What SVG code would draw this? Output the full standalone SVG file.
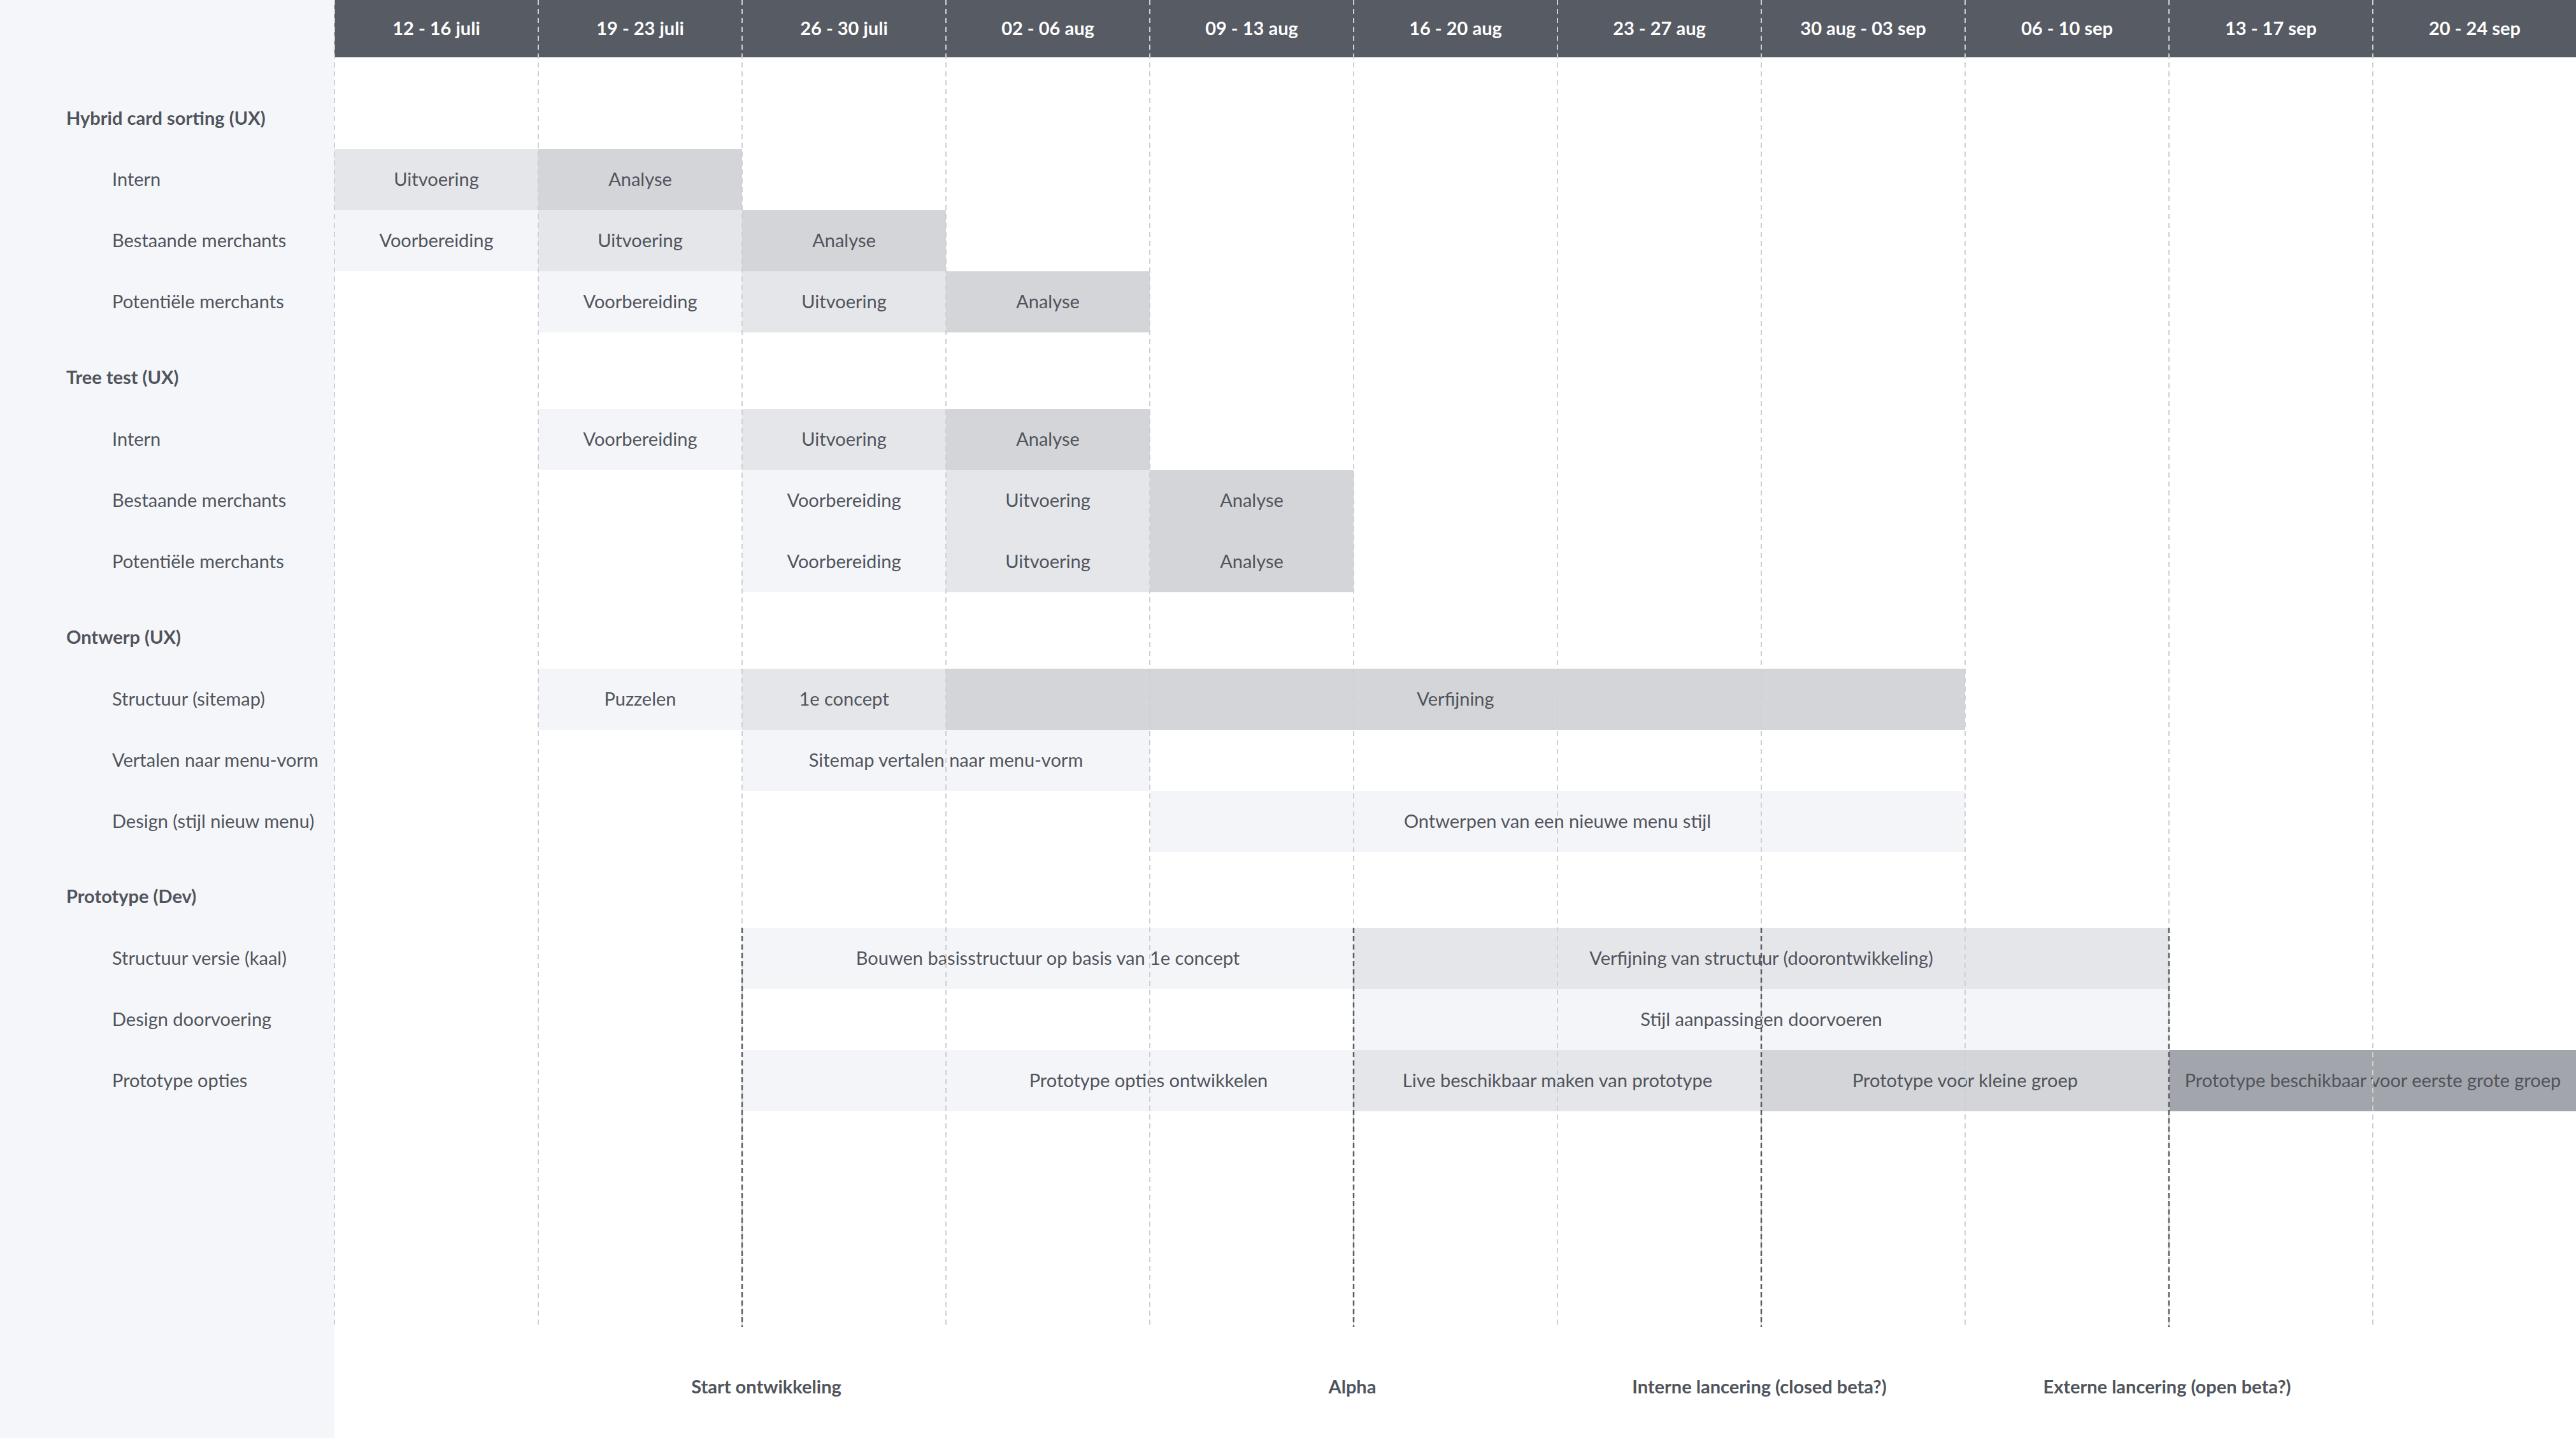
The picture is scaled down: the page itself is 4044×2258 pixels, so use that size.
<svg xmlns="http://www.w3.org/2000/svg" width="4044" height="2258" viewBox="0 0 4044 2258">
<style>
text{font-family:Lato,"Open Sans","Liberation Sans",sans-serif;fill:#50545c;font-size:29px}
.h{fill:#fff;font-weight:bold;text-anchor:middle}
.g{font-weight:bold}
.c{text-anchor:middle}
.m{font-weight:bold;text-anchor:middle}
.l{fill:#f4f5f9}.md{fill:#e5e6ea}.d{fill:#d4d5d9}.x{fill:#a2a5ab}
.grid{stroke:#cfd0d4;stroke-width:2;stroke-dasharray:8 6}
.ms{stroke:#5a5e66;stroke-width:2.5;stroke-dasharray:8 5}
</style>
<rect width="4044" height="2258" fill="#fff"/>
<rect width="525" height="2258" fill="#f5f6fa"/>
<rect x="525" width="3519" height="90" fill="#575b63"/>
<g id="header">
<text class="h" x="685" y="55">12 - 16 juli</text>
<text class="h" x="1005" y="55">19 - 23 juli</text>
<text class="h" x="1325" y="55">26 - 30 juli</text>
<text class="h" x="1645" y="55">02 - 06 aug</text>
<text class="h" x="1965" y="55">09 - 13 aug</text>
<text class="h" x="2285" y="55">16 - 20 aug</text>
<text class="h" x="2605" y="55">23 - 27 aug</text>
<text class="h" x="2925" y="55">30 aug - 03 sep</text>
<text class="h" x="3245" y="55">06  - 10 sep</text>
<text class="h" x="3565" y="55">13 - 17 sep</text>
<text class="h" x="3885" y="55">20 - 24 sep</text>
</g>
<g id="labels">
<text class="g" x="104" y="196">Hybrid card sorting (UX)</text>
<text x="176" y="292">Intern</text>
<text x="176" y="388">Bestaande merchants</text>
<text x="176" y="484">Potentiële merchants</text>
<text class="g" x="104" y="603">Tree test (UX)</text>
<text x="176" y="700">Intern</text>
<text x="176" y="796">Bestaande merchants</text>
<text x="176" y="892">Potentiële merchants</text>
<text class="g" x="104" y="1011">Ontwerp (UX)</text>
<text x="176" y="1108">Structuur (sitemap)</text>
<text x="176" y="1204">Vertalen naar menu-vorm</text>
<text x="176" y="1300">Design (stijl nieuw menu)</text>
<text class="g" x="104" y="1418">Prototype (Dev)</text>
<text x="176" y="1515">Structuur versie (kaal)</text>
<text x="176" y="1611">Design doorvoering</text>
<text x="176" y="1707">Prototype opties</text>
</g>
<g id="bars">
<rect class="md" x="525" y="234" width="320" height="96"/><text class="c" x="685" y="292">Uitvoering</text>
<rect class="d" x="845" y="234" width="320" height="96"/><text class="c" x="1005" y="292">Analyse</text>
<rect class="l" x="525" y="330" width="320" height="96"/><text class="c" x="685" y="388">Voorbereiding</text>
<rect class="md" x="845" y="330" width="320" height="96"/><text class="c" x="1005" y="388">Uitvoering</text>
<rect class="d" x="1165" y="330" width="320" height="96"/><text class="c" x="1325" y="388">Analyse</text>
<rect class="l" x="845" y="426" width="320" height="96"/><text class="c" x="1005" y="484">Voorbereiding</text>
<rect class="md" x="1165" y="426" width="320" height="96"/><text class="c" x="1325" y="484">Uitvoering</text>
<rect class="d" x="1485" y="426" width="320" height="96"/><text class="c" x="1645" y="484">Analyse</text>

<rect class="l" x="845" y="642" width="320" height="96"/><text class="c" x="1005" y="700">Voorbereiding</text>
<rect class="md" x="1165" y="642" width="320" height="96"/><text class="c" x="1325" y="700">Uitvoering</text>
<rect class="d" x="1485" y="642" width="320" height="96"/><text class="c" x="1645" y="700">Analyse</text>
<rect class="l" x="1165" y="738" width="320" height="96"/><text class="c" x="1325" y="796">Voorbereiding</text>
<rect class="md" x="1485" y="738" width="320" height="96"/><text class="c" x="1645" y="796">Uitvoering</text>
<rect class="d" x="1805" y="738" width="320" height="96"/><text class="c" x="1965" y="796">Analyse</text>
<rect class="l" x="1165" y="834" width="320" height="96"/><text class="c" x="1325" y="892">Voorbereiding</text>
<rect class="md" x="1485" y="834" width="320" height="96"/><text class="c" x="1645" y="892">Uitvoering</text>
<rect class="d" x="1805" y="834" width="320" height="96"/><text class="c" x="1965" y="892">Analyse</text>

<rect class="l" x="845" y="1050" width="320" height="96"/><text class="c" x="1005" y="1108">Puzzelen</text>
<rect class="md" x="1165" y="1050" width="320" height="96"/><text class="c" x="1325" y="1108">1e concept</text>
<rect class="d" x="1485" y="1050" width="1600" height="96"/><text class="c" x="2285" y="1108">Verfijning</text>
<rect class="l" x="1165" y="1146" width="640" height="96"/><text class="c" x="1485" y="1204">Sitemap vertalen naar menu-vorm</text>
<rect class="l" x="1805" y="1242" width="1280" height="96"/><text class="c" x="2445" y="1300">Ontwerpen van een nieuwe menu stijl</text>

<rect class="l" x="1165" y="1457" width="960" height="96"/><text class="c" x="1645" y="1515">Bouwen basisstructuur op basis van 1e concept</text>
<rect class="md" x="2125" y="1457" width="1280" height="96"/><text class="c" x="2765" y="1515">Verfijning van structuur (doorontwikkeling)</text>
<rect class="l" x="2125" y="1553" width="1280" height="96"/><text class="c" x="2765" y="1611">Stijl aanpassingen doorvoeren</text>
<rect class="l" x="1165" y="1649" width="960" height="96"/><text class="c" x="1803" y="1707">Prototype opties ontwikkelen</text>
<rect class="md" x="2125" y="1649" width="640" height="96"/><text class="c" x="2445" y="1707">Live beschikbaar maken van prototype</text>
<rect class="d" x="2765" y="1649" width="640" height="96"/><text class="c" x="3085" y="1707">Prototype voor kleine groep</text>
<rect class="x" x="3405" y="1649" width="639" height="96"/><text class="c" x="3725" y="1707">Prototype beschikbaar voor eerste grote groep</text>
</g>
<g id="connectors">
<path class="grid" d="M525 0V2084M845 0V2084M1165 0V2084M1485 0V2084M1805 0V2084M2125 0V2084M2445 0V2084M2765 0V2084M3085 0V2084M3405 0V2084M3725 0V2084"/>
<path class="ms" d="M1165 1457V2084M2125 1457V2084M2765 1457V2084M3405 1457V2084"/>
</g>
<g id="milestones">
<text class="m" x="1203" y="2188">Start ontwikkeling</text>
<text class="m" x="2123" y="2188">Alpha</text>
<text class="m" x="2762" y="2188">Interne lancering (closed beta?)</text>
<text class="m" x="3402" y="2188">Externe lancering (open beta?)</text>
</g>
</svg>
